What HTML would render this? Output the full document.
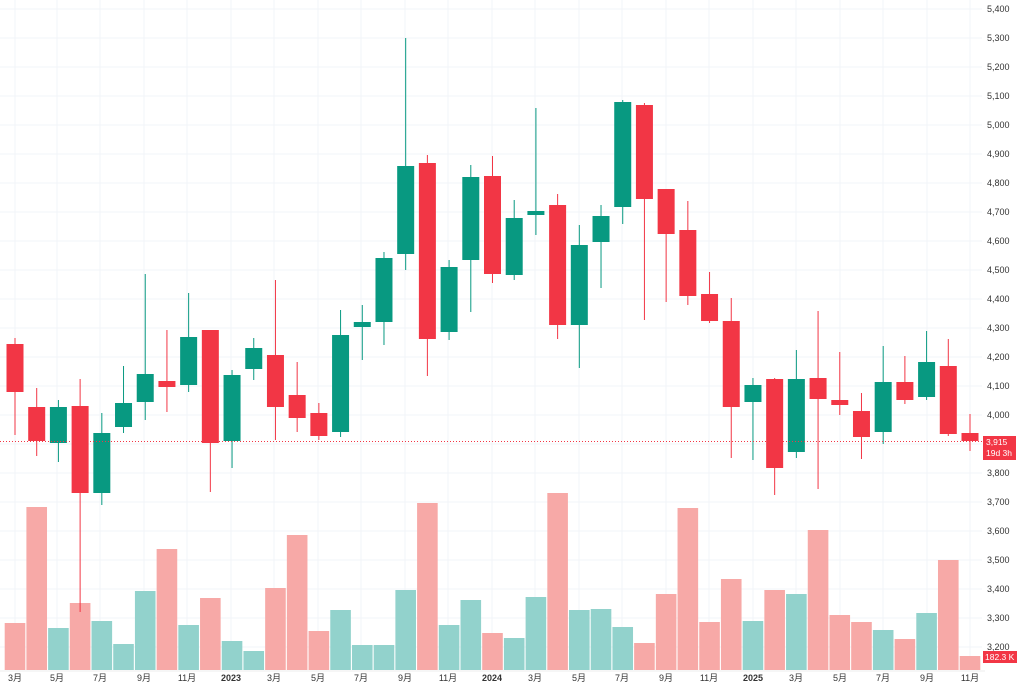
<!DOCTYPE html>
<html><head><meta charset="utf-8"><style>
body{margin:0;background:#fff;width:1024px;height:690px;overflow:hidden;font-family:"Liberation Sans","Noto Sans CJK SC",sans-serif}
svg{position:absolute;left:0;top:0}
.p{font-size:9px;fill:#333}
.t{font-size:9px;fill:#333;text-anchor:middle}
</style></head><body>
<svg id="s" width="1024" height="690" xmlns="http://www.w3.org/2000/svg">
<g id="grid"></g>
<g id="vol"></g>
<g id="cnd"></g>
<line x1="0" y1="441.5" x2="985" y2="441.5" stroke="#f23645" stroke-width="1" stroke-dasharray="1,2"/>
<g class="p">
<text x="987" y="12">5,400</text><text x="987" y="41">5,300</text><text x="987" y="70">5,200</text><text x="987" y="99">5,100</text>
<text x="987" y="128">5,000</text><text x="987" y="157">4,900</text><text x="987" y="186">4,800</text><text x="987" y="215">4,700</text>
<text x="987" y="244">4,600</text><text x="987" y="273">4,500</text><text x="987" y="302">4,400</text><text x="987" y="331">4,300</text>
<text x="987" y="360">4,200</text><text x="987" y="389">4,100</text><text x="987" y="418">4,000</text>
<text x="987" y="476">3,800</text><text x="987" y="505">3,700</text><text x="987" y="534">3,600</text><text x="987" y="563">3,500</text>
<text x="987" y="592">3,400</text><text x="987" y="621">3,300</text><text x="987" y="650">3,200</text>
</g>
<rect x="983" y="436" width="33" height="24" fill="#f23645"/>
<text x="986" y="445" style="font-size:8.5px;fill:#fff">3,915</text>
<text x="986" y="456" style="font-size:8.5px;fill:#fff">19d 3h</text>
<rect x="983" y="651" width="34" height="12" fill="#f23645"/>
<text x="985" y="660" style="font-size:8.5px;fill:#fff">182.3 K</text>
<g class="t">
<text x="15" y="681">3月</text><text x="57" y="681">5月</text><text x="100" y="681">7月</text><text x="144" y="681">9月</text><text x="187" y="681">11月</text>
<text x="231" y="681" font-weight="bold">2023</text><text x="274" y="681">3月</text><text x="318" y="681">5月</text><text x="361" y="681">7月</text><text x="405" y="681">9月</text><text x="448" y="681">11月</text>
<text x="492" y="681" font-weight="bold">2024</text><text x="535" y="681">3月</text><text x="579" y="681">5月</text><text x="622" y="681">7月</text><text x="666" y="681">9月</text><text x="709" y="681">11月</text>
<text x="753" y="681" font-weight="bold">2025</text><text x="796" y="681">3月</text><text x="840" y="681">5月</text><text x="883" y="681">7月</text><text x="927" y="681">9月</text><text x="970" y="681">11月</text>
</g>
</svg>
<script>
var NS="http://www.w3.org/2000/svg";
function el(p,t,a){var e=document.createElementNS(NS,t);for(var k in a)e.setAttribute(k,a[k]);document.getElementById(p).appendChild(e);}
for(var p=5400;p>=3200;p-=100){var y=9+(5400-p)*0.29;el("grid","line",{x1:0,x2:982,y1:y,y2:y,stroke:"#f2f4f8"});}
var lx=[15,57,100,144,187,231,274,318,361,405,448,492,535,579,622,666,709,753,796,840,883,927,970];
lx.forEach(function(x){el("grid","line",{x1:x,x2:x,y1:0,y2:670,stroke:"#f2f4f8"});});
el("grid","line",{x1:0,x2:985,y1:671,y2:671,stroke:"#eee"});
var C=[["r",344,392,338,435],["r",407,441,388,456],["g",407,443,400,462],["r",406,493,379,612],["g",433,493,413,505],["g",403,427,366,433],["g",374,402,274,420],["r",381,387,330,412],["g",337,385,293,392],["r",330,443,330,492],["g",375,441,370,468],["g",348,369,338,380],["r",355,407,280,440],["r",395,418,362,432],["r",413,436,403,440],["g",335,432,310,437],["g",322,327,305,360],["g",258,322,252,345],["g",166,254,38,270],["r",163,339,155,376],["g",267,332,260,340],["g",177,260,165,312],["r",176,274,156,283],["g",218,275,200,280],["g",211,215,108,235],["r",205,325,194,339],["g",245,325,225,368],["g",216,242,205,288],["g",102,207,100,224],["r",105,199,103,320],["r",189,234,189,302],["r",230,296,201,305],["r",294,321,272,323],["r",321,407,298,458],["g",385,402,378,460],["r",379,468,378,495],["g",379,452,350,458],["r",378,399,311,489],["r",400,405,352,415],["r",411,437,393,459],["g",382,432,346,444],["r",382,400,356,404],["g",362,397,331,400],["r",366,434,339,436],["r",433,441,414,451]];
var V=[623,507,628,603,621,644,591,549,625,598,641,651,588,535,631,610,645,645,590,503,625,600,633,638,597,493,610,609,627,643,594,508,622,579,621,590,594,530,615,622,630,639,613,560,656];
var sp=(970-15)/44;
C.forEach(function(c,i){var x=15+i*sp;var col=c[0]=="g"?"#089981":"#f23645";
el("vol","rect",{x:x-10.3,y:V[i],width:20.6,height:670-V[i],fill:c[0]=="g"?"#92d2cc":"#f7a9a7"});
el("cnd","line",{x1:x,x2:x,y1:c[3],y2:c[4],stroke:col,"stroke-width":1});
el("cnd","rect",{x:x-8.5,y:c[1],width:17,height:Math.max(c[2]-c[1],2),fill:col});});
</script>
</body></html>
